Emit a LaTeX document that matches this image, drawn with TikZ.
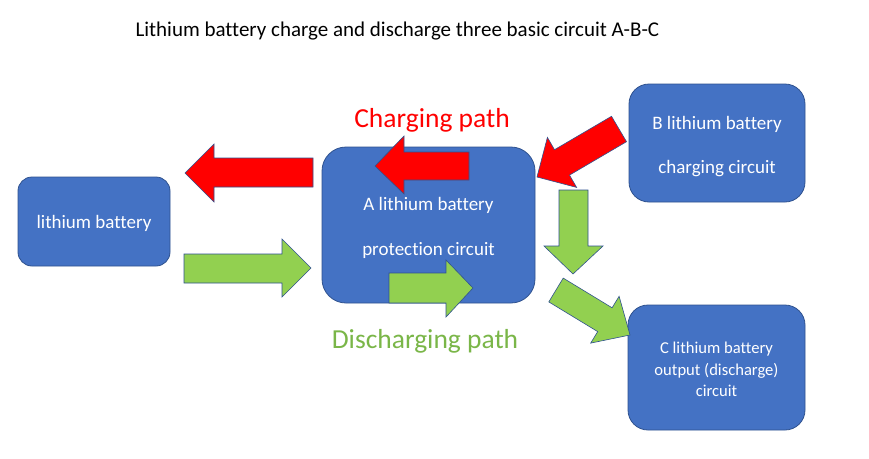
\documentclass[tikz,border=0pt]{standalone}
\usepackage{fontspec}
\setmainfont{Carlito}[Ligatures=NoCommon]
\definecolor{boxblue}{HTML}{4472C4}
\definecolor{edgeblue}{HTML}{2F528F}
\definecolor{arrgreen}{HTML}{92D050}
\definecolor{txtgreen}{HTML}{7AB648}
\begin{document}
\begin{tikzpicture}[x=1pt,y=-1pt,
  box/.style={draw=edgeblue,line width=0.8pt,fill=boxblue,inner sep=0pt},
  boxtext/.style={text=white,align=center,inner sep=0pt},
  redarr/.style={draw=edgeblue,line width=0.6pt,fill=red,line join=miter},
  grnarr/.style={draw=edgeblue,line width=0.6pt,fill=arrgreen,line join=miter}]
\useasboundingbox[fill=white] (0,0) rectangle (869,458);
\node[anchor=west,font=\fontsize{21}{24}\selectfont] (title) at (132,31) {Lithium battery charge and discharge three basic circuit A-B-C};
% boxes
\node[box,rounded corners=14pt,minimum width=152pt,minimum height=89pt] (bat) at (94,221.5) {};
\node[box,rounded corners=24pt,minimum width=213pt,minimum height=156pt] (A) at (428.5,225) {};
\node[box,rounded corners=20pt,minimum width=176pt,minimum height=118pt] (B) at (717,143) {};
\node[box,rounded corners=20pt,minimum width=177pt,minimum height=125pt] (C) at (716.5,367.5) {};
\node[boxtext,font=\fontsize{19}{22}\selectfont] (battext) at ([yshift=-2pt]bat.center) {lithium battery};
\node[boxtext,font=\fontsize{19}{45}\selectfont] (Atext) at ([yshift=-2.5pt]A.center) {A lithium battery\\protection circuit};
\node[boxtext,font=\fontsize{19}{44}\selectfont] (Btext) at ([yshift=-3.5pt]B.center) {B lithium battery\\charging circuit};
\node[boxtext,font=\fontsize{16.6}{21.5}\selectfont] (Ctext) at ([yshift=-2pt]C.center) {C lithium battery\\output (discharge)\\circuit};
% labels
\node[text=red,font=\fontsize{27.5}{30}\selectfont] (chg) at (432,120) {Charging path};
\node[text=txtgreen,font=\fontsize{27.5}{30}\selectfont] (dis) at (425,341) {Discharging path};
% red arrows
\draw[redarr] (313,158) -- (214,158) -- (214,144) -- (185,173) -- (214,202) -- (214,187) -- (313,187) -- cycle;
\draw[redarr] (469,152) -- (404,152) -- (404,136) -- (375,166) -- (404,194) -- (404,180) -- (469,180) -- cycle;
\draw[redarr] (611.5,116.3) -- (554.5,149.7) -- (547.4,137.4) -- (537,177) -- (576.6,187.4) -- (569.5,175.1) -- (626.5,141.7) -- cycle;
% green arrows
\draw[grnarr] (184,254) -- (282,254) -- (282,239) -- (311,268) -- (282,297) -- (282,283) -- (184,283) -- cycle;
\draw[grnarr] (389,273) -- (446,273) -- (446,260) -- (473,288) -- (446,317) -- (446,303) -- (389,303) -- cycle;
\draw[grnarr] (559,190) -- (588,190) -- (588,246) -- (603,246) -- (573,274) -- (544,246) -- (559,246) -- cycle;
\draw[grnarr] (563.2,278.1) -- (612.1,307.8) -- (619.1,296.3) -- (630,335) -- (590.7,343.1) -- (597.7,331.6) -- (548.8,301.9) -- cycle;
\end{tikzpicture}
\end{document}
